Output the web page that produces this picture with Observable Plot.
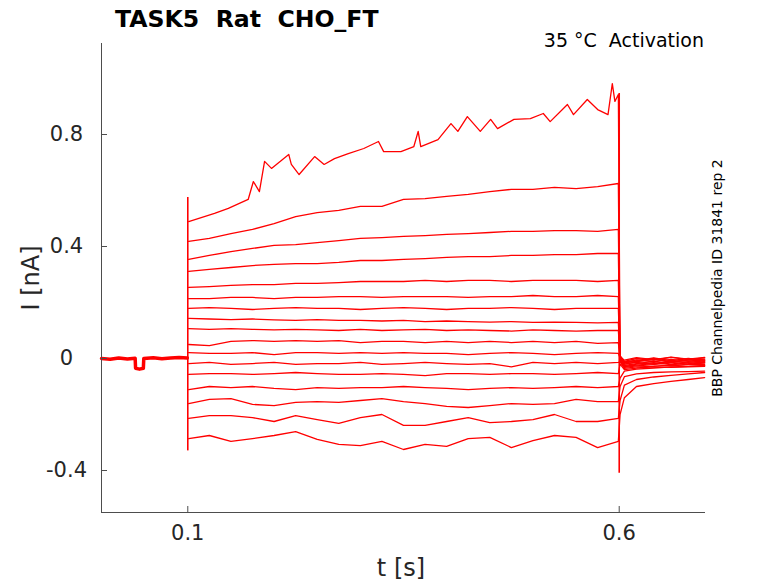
<!DOCTYPE html>
<html><head><meta charset="utf-8">
<script src="https://cdn.jsdelivr.net/npm/d3@7"></script>
<script src="https://cdn.jsdelivr.net/npm/@observablehq/plot@0.6"></script>
<style>
body{margin:0;background:#fff;}
#wrap{width:778px;height:583px;}
</style>
</head><body><div id="wrap"></div>
<script>
// ---- axes ----
const xDomain = [0, 0.7];
const yDomain = [-0.55, 1.125];
const xTicks = [0.1, 0.6];
const yTicks = [-0.4, 0, 0.4, 0.8];

// ---- texts ----
const titleText = "TASK5  Rat  CHO_FT";
const noteText = "35 °C  Activation";
const sideText = "BBP Channelpedia ID 31841 rep 2";
const xLabel = "t [s]";
const yLabel = "I [nA]";

// ---- holding segment before the step (all sweeps overlap) ----
const preT = [0, 0.01, 0.02, 0.03, 0.039, 0.0395, 0.044, 0.0485, 0.049, 0.06, 0.07, 0.08, 0.09, 0.0995];
const preI = [0, -0.003, 0.002, -0.002, 0.001, -0.035, -0.038, -0.035, 0.0, 0.003, -0.001, 0.002, 0.004, 0.002];

// ---- capacitive transients ----
const spikeT = [0.1, 0.6];
const spikeLo = [-0.33, -0.41];
const spikeHi = [0.575, 0.946];

// ---- sweep 1 (largest) ----
const tr1T = [0.101, 0.131, 0.147, 0.170, 0.176, 0.183, 0.189, 0.197, 0.217, 0.220, 0.229, 0.247, 0.258, 0.270, 0.286, 0.304, 0.321, 0.327, 0.347, 0.362, 0.367, 0.370, 0.390, 0.405, 0.413, 0.424, 0.439, 0.451, 0.459, 0.478, 0.497, 0.512, 0.520, 0.540, 0.547, 0.563, 0.575, 0.587, 0.592, 0.595, 0.599];
const tr1I = [0.489, 0.518, 0.536, 0.568, 0.632, 0.596, 0.704, 0.679, 0.729, 0.693, 0.657, 0.721, 0.693, 0.714, 0.732, 0.750, 0.775, 0.739, 0.739, 0.757, 0.811, 0.757, 0.782, 0.839, 0.811, 0.864, 0.811, 0.854, 0.821, 0.854, 0.857, 0.875, 0.846, 0.907, 0.871, 0.925, 0.889, 0.871, 0.982, 0.918, 0.943];

// ---- sweeps 2..17 during the step ----
const stepT = [0.101, 0.125, 0.15, 0.175, 0.2, 0.225, 0.25, 0.275, 0.3, 0.325, 0.35, 0.375, 0.4, 0.425, 0.45, 0.475, 0.5, 0.525, 0.55, 0.575, 0.599];
const stepTraces = [
  [0.418, 0.429, 0.446, 0.461, 0.482, 0.507, 0.521, 0.529, 0.543, 0.543, 0.568, 0.571, 0.579, 0.586, 0.596, 0.604, 0.604, 0.611, 0.607, 0.614, 0.625],
  [0.354, 0.368, 0.382, 0.393, 0.404, 0.407, 0.414, 0.421, 0.429, 0.432, 0.436, 0.439, 0.443, 0.446, 0.450, 0.454, 0.454, 0.457, 0.457, 0.454, 0.461],
  [0.311, 0.318, 0.325, 0.332, 0.336, 0.339, 0.339, 0.343, 0.350, 0.350, 0.354, 0.357, 0.361, 0.364, 0.364, 0.368, 0.368, 0.371, 0.371, 0.375, 0.375],
  [0.254, 0.257, 0.261, 0.264, 0.264, 0.268, 0.268, 0.271, 0.275, 0.275, 0.275, 0.279, 0.275, 0.279, 0.279, 0.275, 0.279, 0.279, 0.279, 0.275, 0.279],
  [0.214, 0.214, 0.218, 0.218, 0.214, 0.218, 0.218, 0.221, 0.221, 0.218, 0.221, 0.221, 0.221, 0.218, 0.221, 0.221, 0.225, 0.221, 0.221, 0.225, 0.221],
  [0.179, 0.182, 0.179, 0.175, 0.179, 0.182, 0.179, 0.179, 0.175, 0.179, 0.182, 0.179, 0.175, 0.179, 0.179, 0.182, 0.179, 0.175, 0.179, 0.179, 0.179],
  [0.143, 0.141, 0.139, 0.141, 0.138, 0.136, 0.139, 0.136, 0.136, 0.134, 0.136, 0.132, 0.134, 0.132, 0.130, 0.132, 0.129, 0.130, 0.129, 0.127, 0.129],
  [0.107, 0.104, 0.107, 0.104, 0.102, 0.104, 0.102, 0.100, 0.104, 0.100, 0.102, 0.104, 0.100, 0.102, 0.100, 0.098, 0.102, 0.100, 0.098, 0.100, 0.100],
  [0.050, 0.046, 0.061, 0.064, 0.061, 0.064, 0.061, 0.064, 0.057, 0.061, 0.061, 0.057, 0.061, 0.057, 0.061, 0.057, 0.061, 0.057, 0.061, 0.054, 0.057],
  [0.021, 0.018, 0.018, 0.021, 0.014, 0.021, 0.021, 0.018, 0.021, 0.018, 0.021, 0.018, 0.018, 0.014, 0.018, 0.021, 0.018, 0.014, 0.018, 0.021, 0.018],
  [-0.018, -0.014, -0.021, -0.018, -0.014, -0.021, -0.018, -0.018, -0.014, -0.021, -0.018, -0.014, -0.018, -0.021, -0.018, -0.030, -0.014, -0.018, -0.014, -0.018, -0.014],
  [-0.057, -0.054, -0.054, -0.057, -0.054, -0.050, -0.054, -0.057, -0.057, -0.054, -0.057, -0.061, -0.054, -0.054, -0.057, -0.054, -0.054, -0.057, -0.054, -0.050, -0.054],
  [-0.111, -0.100, -0.104, -0.100, -0.107, -0.111, -0.104, -0.107, -0.104, -0.104, -0.100, -0.104, -0.107, -0.111, -0.107, -0.104, -0.107, -0.104, -0.100, -0.104, -0.100],
  [-0.161, -0.146, -0.143, -0.164, -0.168, -0.157, -0.154, -0.157, -0.150, -0.143, -0.154, -0.161, -0.171, -0.175, -0.168, -0.161, -0.164, -0.161, -0.146, -0.154, -0.154],
  [-0.214, -0.204, -0.204, -0.211, -0.225, -0.204, -0.218, -0.232, -0.211, -0.200, -0.239, -0.239, -0.225, -0.211, -0.229, -0.225, -0.218, -0.200, -0.225, -0.225, -0.214],
  [-0.286, -0.275, -0.296, -0.286, -0.275, -0.261, -0.289, -0.307, -0.311, -0.296, -0.325, -0.307, -0.314, -0.286, -0.282, -0.318, -0.293, -0.275, -0.282, -0.318, -0.296]
];

// ---- sweeps 1..17 after the step ----
const tailT = [0.601, 0.606, 0.62, 0.64, 0.66, 0.68, 0.699];
const tailTraces = [
  [0.005, -0.020, -0.012, 0.000, -0.015, -0.005, -0.010],
  [0.000, -0.025, -0.018, -0.010, -0.020, -0.012, -0.015],
  [0.008, -0.015, -0.005, -0.012, -0.003, -0.010, -0.005],
  [-0.005, -0.030, -0.020, -0.015, -0.022, -0.018, -0.012],
  [0.010, -0.010, 0.000, -0.006, 0.004, -0.004, 0.002],
  [-0.010, -0.028, -0.024, -0.018, -0.014, -0.020, -0.016],
  [0.004, -0.012, -0.008, 0.002, -0.008, 0.000, -0.006],
  [-0.002, -0.020, -0.014, -0.020, -0.010, -0.014, -0.008],
  [0.006, -0.006, 0.003, -0.004, 0.005, -0.002, 0.004],
  [-0.008, -0.032, -0.026, -0.022, -0.026, -0.020, -0.022],
  [0.002, -0.016, -0.010, -0.004, -0.012, -0.006, -0.002],
  [-0.012, -0.035, -0.030, -0.028, -0.024, -0.028, -0.025],
  [-0.020, -0.040, -0.034, -0.030, -0.032, -0.030, -0.028],
  [-0.070, -0.045, -0.038, -0.034, -0.030, -0.028, -0.026],
  [-0.100, -0.065, -0.055, -0.050, -0.048, -0.047, -0.045],
  [-0.150, -0.095, -0.075, -0.066, -0.060, -0.055, -0.050],
  [-0.200, -0.140, -0.100, -0.090, -0.082, -0.075, -0.068]
];

// ---- build tables ----
const rows = [];
tr1T.forEach((t, i) => rows.push({k: 1, t, I: tr1I[i]}));
stepTraces.forEach((vals, j) => vals.forEach((I, i) => rows.push({k: j + 2, t: stepT[i], I})));
tailTraces.forEach((vals, j) => vals.forEach((I, i) => rows.push({k: j + 1, t: tailT[i], I})));
rows.sort((a, b) => a.k - b.k || a.t - b.t);
const pre = preT.map((t, i) => ({t, I: preI[i]}));
const spikes = spikeT.map((t, i) => ({t, lo: spikeLo[i], hi: spikeHi[i]}));

const red = "#ff0000";
const axisColor = "#4d4d4d";
const textColor = "#262626";
const tickLenX = (xDomain[1] - xDomain[0]) * 6 / 604;
const tickLenY = (yDomain[1] - yDomain[0]) * 6 / 469;

const chart = Plot.plot({
  width: 778, height: 583,
  marginLeft: 101, marginRight: 73, marginTop: 43, marginBottom: 71,
  x: {domain: xDomain, axis: null},
  y: {domain: yDomain, axis: null},
  style: {fontFamily: "DejaVu Sans", background: "white", color: textColor},
  marks: [
    Plot.line(pre, {x: "t", y: "I", stroke: red, strokeWidth: 3.5}),
    Plot.line(rows, {x: "t", y: "I", z: "k", stroke: red, strokeWidth: 1.3}),
    Plot.ruleX(spikes, {x: "t", y1: "lo", y2: "hi", stroke: red, strokeWidth: 1.6}),
    Plot.ruleX([xDomain[0]], {stroke: axisColor}),
    Plot.ruleY([yDomain[0]], {stroke: axisColor}),
    Plot.ruleY(yTicks, {x1: xDomain[0], x2: xDomain[0] + tickLenX, stroke: axisColor}),
    Plot.ruleX(xTicks, {y1: yDomain[0], y2: yDomain[0] + tickLenY, stroke: axisColor}),
    Plot.text(yTicks, {y: d => d, text: d => String(d), frameAnchor: "left", dx: -35, textAnchor: "middle", fontSize: 21, fill: textColor}),
    Plot.text(xTicks, {x: d => d, text: d => String(d), frameAnchor: "bottom", dy: 13, lineAnchor: "top", fontSize: 21, fill: textColor})
  ]
});
document.getElementById("wrap").appendChild(chart);

const svg = d3.select(chart);
svg.append("text").attr("x", 115).attr("y", 27).attr("text-anchor", "start").attr("font-family", "DejaVu Sans").attr("font-weight", "bold")
  .attr("font-size", 23.6).attr("fill", "#000").style("white-space", "pre").text(titleText);
svg.append("text").attr("x", 704).attr("y", 47).attr("text-anchor", "end").attr("font-family", "DejaVu Sans")
  .attr("font-size", 19).attr("fill", "#000").style("white-space", "pre").text(noteText);
svg.append("text").attr("transform", "translate(722,278) rotate(-90)").attr("text-anchor", "middle")
  .attr("font-family", "DejaVu Sans").attr("font-size", 14).attr("fill", "#000").text(sideText);
svg.append("text").attr("x", 401).attr("y", 576).attr("text-anchor", "middle").attr("font-family", "DejaVu Sans")
  .attr("font-size", 24).attr("fill", textColor).text(xLabel);
svg.append("text").attr("transform", "translate(39,278) rotate(-90)").attr("text-anchor", "middle")
  .attr("font-family", "DejaVu Sans").attr("font-size", 24).attr("fill", textColor).text(yLabel);
</script>
</body></html>
